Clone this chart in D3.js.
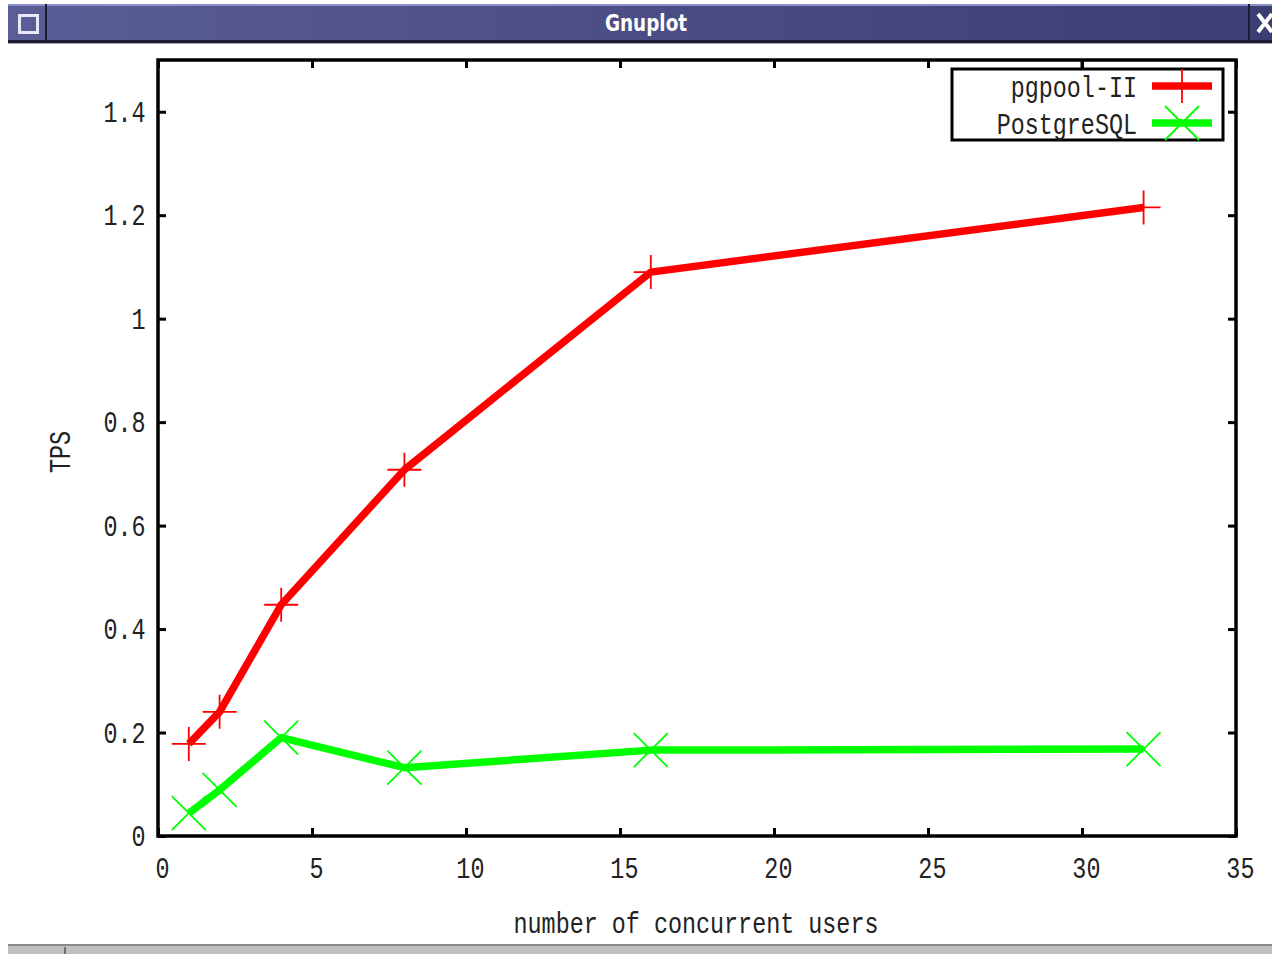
<!DOCTYPE html>
<html>
<head>
<meta charset="utf-8">
<script src="https://cdn.jsdelivr.net/npm/d3@7"></script>
<style>
  body { margin: 0; background: #fff; }
  text { font-family: "Liberation Mono", "DejaVu Sans Mono", monospace; }
</style>
</head>
<body>
<div id="chart"></div>
<script>
// values
var users = [1, 2, 4, 8, 16, 32];
var pgpool = [0.178, 0.24, 0.447, 0.708, 1.09, 1.215];
var postgres = [0.044, 0.089, 0.19, 0.132, 0.166, 0.168];
var seriesNames = ["pgpool-II", "PostgreSQL"];
var seriesColors = ["#ff0000", "#00ff00"];
var xTicks = [0, 5, 10, 15, 20, 25, 30, 35];
var yTicks = [0, 0.2, 0.4, 0.6, 0.8, 1, 1.2, 1.4];

var W = 1272, H = 954;
var SX = 0.78; // squeeze the mono font so it looks like the gnuplot bitmap font
var FS = 30;
var svg = d3.select("#chart").append("svg")
    .attr("width", W)
    .attr("height", H);

// window frame - title bar
var grad = svg.append("defs").append("linearGradient").attr("id", "tbar");
grad.append("stop").attr("offset", "0%").attr("stop-color", "#5a5e96");
grad.append("stop").attr("offset", "100%").attr("stop-color", "#3b3e72");
svg.append("rect").attr("x", 8).attr("y", 4).attr("width", W - 8).attr("height", 38).attr("fill", "url(#tbar)");
svg.append("rect").attr("x", 8).attr("y", 4).attr("width", W - 8).attr("height", 2).attr("fill", "#8c90c8");
svg.append("rect").attr("x", 8).attr("y", 40).attr("width", W - 8).attr("height", 3).attr("fill", "#1c1c30");
svg.append("rect").attr("x", 8).attr("y", 43).attr("width", W - 8).attr("height", 1).attr("fill", "#aaaaaa");
svg.append("rect").attr("x", 45).attr("y", 4).attr("width", 2).attr("height", 37).attr("fill", "#1c1c30");
svg.append("rect").attr("x", 1248).attr("y", 4).attr("width", 2).attr("height", 37).attr("fill", "#1c1c30");
svg.append("rect").attr("x", 19.5).attr("y", 15.5).attr("width", 18).attr("height", 17)
    .attr("fill", "none").attr("stroke", "#e8e8f4").attr("stroke-width", 3);
svg.append("path").attr("d", "M1258,14L1272,32M1258,32L1272,14")
    .attr("stroke", "#ffffff").attr("stroke-width", 4);
svg.append("text").attr("transform", "translate(646,31) scale(0.8,1)").attr("text-anchor", "middle")
    .attr("fill", "#ffffff").attr("font-size", 23).attr("font-weight", "bold")
    .style("font-family", "'DejaVu Sans', sans-serif").text("Gnuplot");

// window frame - bottom bar
svg.append("rect").attr("x", 8).attr("y", 944).attr("width", W - 8).attr("height", 10).attr("fill", "#c0c0c0");
svg.append("rect").attr("x", 8).attr("y", 944).attr("width", W - 8).attr("height", 2).attr("fill", "#8a8a8a");
svg.append("rect").attr("x", 64).attr("y", 947).attr("width", 2).attr("height", 7).attr("fill", "#707070");

// plot area
var plotLeft = 158, plotRight = 1236, plotTop = 60, plotBottom = 836;
var x = d3.scaleLinear().domain([0, 35]).range([plotLeft, plotRight]);
var y = d3.scaleLinear().domain([0, 1.5]).range([plotBottom, plotTop]);

function styleAxis(g) {
    g.select(".domain").remove();
    g.selectAll(".tick line").attr("stroke", "#000").attr("stroke-width", 3);
    g.selectAll(".tick text").attr("font-size", FS).attr("fill", "#222")
        .attr("transform", "scale(" + SX + ",1)");
}

var fmt = function (d) { return d === 0 ? "0" : d3.format("")(d); };

svg.append("g").attr("transform", "translate(0," + plotBottom + ")")
    .call(d3.axisBottom(x).tickValues(xTicks).tickSizeInner(-8).tickSizeOuter(0).tickPadding(21).tickFormat(fmt))
    .call(styleAxis)
    .selectAll(".tick text").attr("dx", 5);
svg.append("g").attr("transform", "translate(0," + plotTop + ")")
    .call(d3.axisTop(x).tickValues(xTicks).tickSizeInner(-8).tickSizeOuter(0).tickFormat(""))
    .call(styleAxis);
svg.append("g").attr("transform", "translate(" + plotLeft + ",0)")
    .call(d3.axisLeft(y).tickValues(yTicks).tickSizeInner(-8).tickSizeOuter(0).tickPadding(16).tickFormat(fmt))
    .call(styleAxis);
svg.append("g").attr("transform", "translate(" + plotRight + ",0)")
    .call(d3.axisRight(y).tickValues(yTicks).tickSizeInner(-8).tickSizeOuter(0).tickFormat(""))
    .call(styleAxis);

svg.append("rect").attr("x", plotLeft).attr("y", plotTop)
    .attr("width", plotRight - plotLeft).attr("height", plotBottom - plotTop)
    .attr("fill", "none").attr("stroke", "#000").attr("stroke-width", 3.5);

// axis titles
svg.append("text").attr("transform", "translate(70,452) rotate(-90) scale(" + SX + ",1)")
    .attr("text-anchor", "middle").attr("font-size", FS).attr("fill", "#222").text("TPS");
svg.append("text").attr("transform", "translate(696,933) scale(" + SX + ",1)")
    .attr("text-anchor", "middle").attr("font-size", FS).attr("fill", "#222")
    .text("number of concurrent users");

// series
var series = [pgpool, postgres];
var line = d3.line()
    .x(function (d, i) { return x(users[i]); })
    .y(function (d) { return y(d); });

var plusPath = function (cx, cy, r) {
    return "M" + (cx - r) + "," + cy + "H" + (cx + r) + "M" + cx + "," + (cy - r) + "V" + (cy + r);
};
var crossPath = function (cx, cy, r) {
    return "M" + (cx - r) + "," + (cy - r) + "L" + (cx + r) + "," + (cy + r) +
        "M" + (cx - r) + "," + (cy + r) + "L" + (cx + r) + "," + (cy - r);
};
var markers = [plusPath, crossPath];

series.forEach(function (vals, k) {
    svg.append("path").datum(vals)
        .attr("d", line)
        .attr("fill", "none")
        .attr("stroke", seriesColors[k])
        .attr("stroke-width", 7.5)
        .attr("stroke-linejoin", "round");
    svg.append("g").selectAll("path").data(vals).enter().append("path")
        .attr("d", function (d, i) { return markers[k](x(users[i]), y(d), 17); })
        .attr("stroke", seriesColors[k])
        .attr("stroke-width", 1.8)
        .attr("fill", "none");
});

// legend
var legend = svg.append("g");
legend.append("rect").attr("x", 952).attr("y", 69).attr("width", 271).attr("height", 71)
    .attr("fill", "#fff").attr("stroke", "#000").attr("stroke-width", 3);
seriesNames.forEach(function (name, k) {
    var ly = 86 + k * 37;
    legend.append("text").attr("transform", "translate(1137," + ly + ") scale(" + SX + ",1)")
        .attr("dy", "0.35em").attr("text-anchor", "end").attr("font-size", FS).attr("fill", "#222")
        .text(name);
    legend.append("line").attr("x1", 1152).attr("x2", 1212).attr("y1", ly).attr("y2", ly)
        .attr("stroke", seriesColors[k]).attr("stroke-width", 7.5);
    legend.append("path").attr("d", markers[k](1182, ly, 17))
        .attr("stroke", seriesColors[k]).attr("stroke-width", 1.8).attr("fill", "none");
});
// top tick at x=30 runs down into the legend box
svg.append("line").attr("x1", x(30)).attr("x2", x(30)).attr("y1", plotTop).attr("y2", plotTop + 8)
    .attr("stroke", "#000").attr("stroke-width", 3);
</script>
</body>
</html>
